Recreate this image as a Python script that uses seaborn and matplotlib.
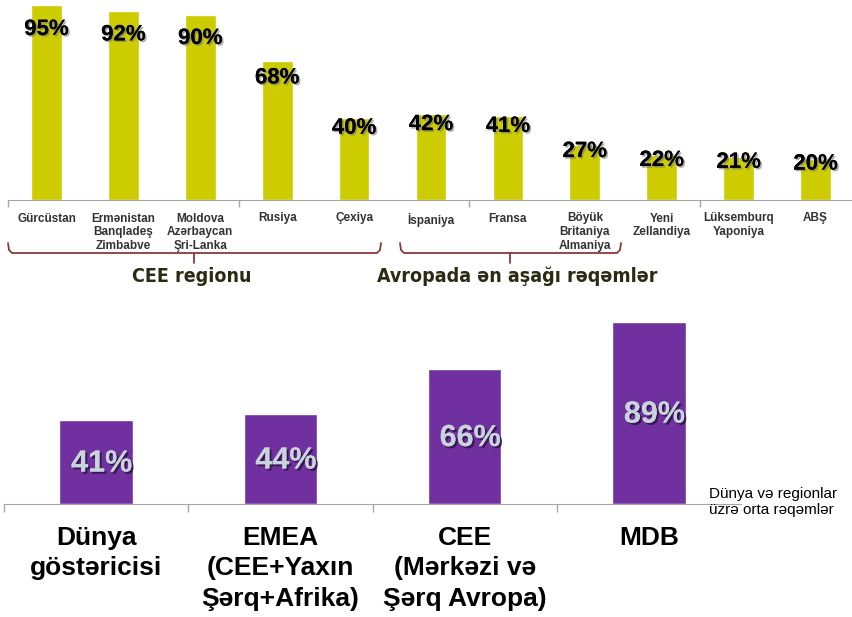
import matplotlib.pyplot as plt
import matplotlib.patheffects as pe
import seaborn as sns

# top chart: countries
countries = ["Gürcüstan", "Ermənistan\nBanqladeş\nZimbabve", "Moldova\nAzərbaycan\nŞri-Lanka",
             "Rusiya", "Çexiya", "İspaniya", "Fransa", "Böyük\nBritaniya\nAlmaniya",
             "Yeni\nZellandiya", "Lüksemburq\nYaponiya", "ABŞ"]
country_pct = [95, 92, 90, 68, 40, 42, 41, 27, 22, 21, 20]

# bottom chart: regions
regions = ["Dünya\ngöstəricisi", "EMEA\n(CEE+Yaxın\nŞərq+Afrika)", "CEE\n(Mərkəzi və\nŞərq Avropa)", "MDB"]
region_pct = [41, 44, 66, 89]

group_labels = ["CEE regionu", "Avropada ən aşağı rəqəmlər"]
note = "Dünya və regionlar\nüzrə orta rəqəmlər"

sns.set_style("white")
plt.rcParams["font.family"] = ["Liberation Sans", "DejaVu Sans"]

W, H = 852, 617
fig = plt.figure(figsize=(W / 100, H / 100), dpi=100)

axis_grey = "#a6a6a6"

# ---- top chart ----
ax1 = fig.add_axes([8 / W, 417 / H, 846 / W, 200 / H])
sns.barplot(x=list(range(len(countries))), y=country_pct, color="#cccc00",
            saturation=1, width=0.4, ax=ax1)
ax1.set_xlim(-0.5, len(countries) - 0.5)
ax1.set_ylim(0, 97.5)
ax1.set_yticks([])
ax1.set_xticks(range(len(countries)))
ax1.set_xticklabels(countries, fontsize=8.5, fontweight="bold", color="#333333", linespacing=1.2)
ax1.set_xticks([-0.5, 2.5, 5.5, 8.5], minor=True)
ax1.tick_params(axis="x", which="major", length=0, pad=9)
ax1.tick_params(axis="x", which="minor", length=5, color=axis_grey, width=1, direction="out", bottom=True)
sns.despine(ax=ax1, left=True)
ax1.spines["bottom"].set_color(axis_grey)
ax1.set_xlabel("")
ax1.patch.set_alpha(0)

shadow_dark = [pe.withSimplePatchShadow(offset=(1.2, -1.2), shadow_rgbFace="#777777", alpha=0.6), pe.Normal()]
for i, v in enumerate(country_pct):
    ax1.text(i, v * 0.875, f"{v}%", ha="center", va="center", fontsize=16,
             fontweight="bold", color="black", path_effects=shadow_dark)

# ---- bottom chart ----
ax2 = fig.add_axes([4 / W, 113 / H, 737 / W, 204 / H])
sns.barplot(x=list(range(len(regions))), y=region_pct, color="#7030a0",
            saturation=1, width=0.4, ax=ax2)
ax2.set_xlim(-0.5, len(regions) - 0.5)
ax2.set_ylim(0, 100)
ax2.set_yticks([])
ax2.set_xticks(range(len(regions)))
ax2.set_xticklabels(regions, fontsize=19, fontweight="bold", color="black", linespacing=1.33)
ax2.set_xticks([-0.5, 0.5, 1.5, 2.5], minor=True)
ax2.tick_params(axis="x", which="major", length=0, pad=16)
ax2.tick_params(axis="x", which="minor", length=6, color=axis_grey, width=1, direction="out", bottom=True)
sns.despine(ax=ax2, left=True)
ax2.spines["bottom"].set_color(axis_grey)
ax2.set_xlabel("")
ax2.patch.set_alpha(0)

shadow_light = [pe.withSimplePatchShadow(offset=(1.5, -1.5), shadow_rgbFace="#2a0f40", alpha=0.8), pe.Normal()]
for i, v in enumerate(region_pct):
    ax2.annotate(f"{v}%", (i, v / 2), xytext=(4, -1), textcoords="offset points",
                 ha="center", va="center", fontsize=22, fontweight="bold",
                 color="#c9d3dc", path_effects=shadow_light)

# ---- overlay for braces and group titles (pixel coords) ----
ov = fig.add_axes([0, 0, 1, 1])
ov.set_xlim(0, W)
ov.set_ylim(H, 0)
ov.axis("off")
ov.patch.set_alpha(0)

brace_col = "#8b3a3a"
def brace(x0, x1, xm, y):
    ov.plot([x0, x0 + 1, x0 + 4, x1 - 4, x1 - 1, x1], [y - 10, y - 3, y, y, y - 3, y - 10],
            color=brace_col, lw=1.3, solid_capstyle="round")
    ov.plot([xm, xm], [y, y + 10], color=brace_col, lw=1.3)

brace(8, 381, 194, 253)
brace(400, 621, 510, 253)

title_kw = dict(ha="center", va="center", fontsize=14, fontweight="bold", color="#2b2b14",
                family="DejaVu Sans", fontstretch="condensed")
ov.text(192, 276, group_labels[0], **title_kw)
ov.text(517, 276, group_labels[1], **title_kw)

ov.text(709, 502, note, ha="left", va="center", fontsize=11, color="black", linespacing=1.2)

fig.savefig("out.png", dpi=100)
